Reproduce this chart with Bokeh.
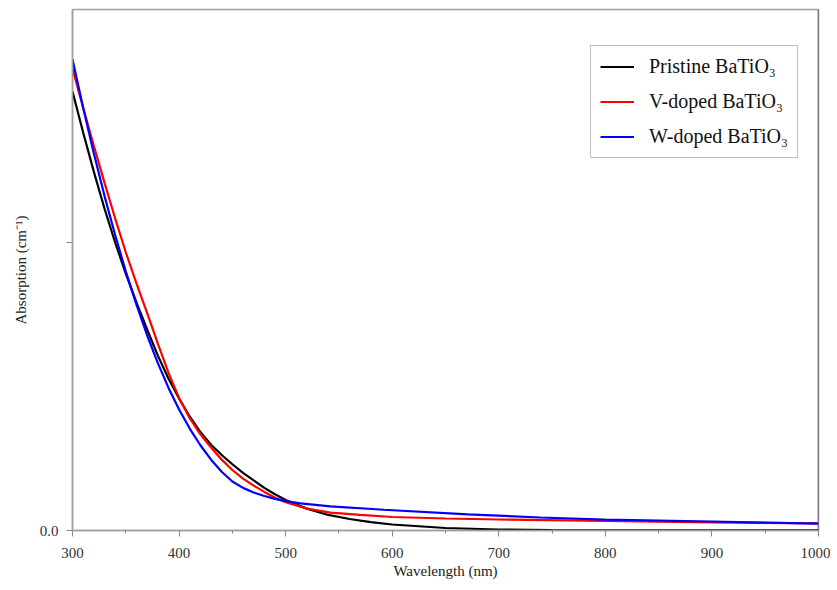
from bokeh.plotting import figure
from bokeh.models import FixedTicker, Span
from bokeh.embed import file_html
from bokeh.resources import INLINE

# Wavelength (nm) and absorption values
black_x = [300, 310, 320, 330, 340, 350, 360, 370, 380, 390, 400, 410, 420, 430, 440, 450, 460, 470, 480, 490, 500, 510, 520, 540, 560, 580, 600, 650, 700, 750, 800, 1000]
black_y = [0.762, 0.691, 0.623, 0.559, 0.500, 0.446, 0.396, 0.349, 0.304, 0.264, 0.229, 0.198, 0.171, 0.149, 0.131, 0.115, 0.100, 0.087, 0.074, 0.063, 0.053, 0.045, 0.038, 0.027, 0.020, 0.0145, 0.0104, 0.0043, 0.0017, 0.0007, 0.0004, 0.0002]

red_x = [300, 310, 320, 330, 340, 350, 360, 370, 380, 390, 400, 410, 420, 430, 440, 450, 460, 470, 480, 490, 500, 520, 542, 570, 600, 650, 700, 800, 900, 1000]
red_y = [0.802, 0.734, 0.668, 0.604, 0.542, 0.483, 0.429, 0.378, 0.325, 0.274, 0.230, 0.195, 0.167, 0.144, 0.123, 0.105, 0.090, 0.078, 0.067, 0.057, 0.049, 0.038, 0.031, 0.027, 0.0234, 0.0208, 0.0191, 0.0168, 0.0142, 0.0122]

blue_x = [300, 310, 320, 330, 340, 350, 360, 370, 380, 390, 400, 410, 420, 430, 440, 450, 460, 470, 480, 490, 500, 514, 542, 592, 671, 739, 800, 900, 1000]
blue_y = [0.818, 0.734, 0.655, 0.581, 0.513, 0.450, 0.392, 0.339, 0.291, 0.248, 0.210, 0.177, 0.148, 0.123, 0.102, 0.085, 0.074, 0.066, 0.060, 0.055, 0.051, 0.047, 0.042, 0.036, 0.028, 0.0226, 0.019, 0.0156, 0.012]

labels = ["Pristine BaTiO\u2083", "V-doped BaTiO\u2083", "W-doped BaTiO\u2083"]
colors = ["#000000", "#ff0000", "#0000ff"]

x_ticks = [300, 400, 500, 600, 700, 800, 900, 1000]
x_minor = [350, 450, 550, 650, 750, 850, 950]
y_ticks = [0.0, 0.5]

FONT = "Liberation Serif"

p = figure(width=830, height=582, x_range=(300, 1000), y_range=(0, 0.9045),
           output_backend="svg", toolbar_location=None,
           min_border_left=72, min_border_right=12, min_border_top=9, min_border_bottom=52)

for xs, ys, c, lab in zip([black_x, red_x, blue_x], [black_y, red_y, blue_y], colors, labels):
    p.line(xs, ys, line_color=c, line_width=2.2, legend_label=lab)

p.xgrid.visible = False
p.ygrid.visible = False
p.outline_line_color = "#a0a0a0"
p.outline_line_width = 1.5

p.add_layout(Span(location=1000, dimension="height", line_color="#555555", line_width=1.5))

xa = p.xaxis[0]
xa.ticker = FixedTicker(ticks=x_ticks, minor_ticks=x_minor)
xa.axis_label = "Wavelength (nm)"
ya = p.yaxis[0]
ya.ticker = FixedTicker(ticks=y_ticks, minor_ticks=[])
ya.major_label_overrides = {0: "0.0", 0.5: ""}
ya.axis_label = "Absorption (cm\u207b\u00b9)"

for ax in (xa, ya):
    ax.axis_line_color = "#a0a0a0"
    ax.axis_line_width = 1.5
    ax.major_tick_line_color = "#888888"
    ax.minor_tick_line_color = "#888888"
    ax.major_tick_out = 6
    ax.major_tick_in = 0
    ax.minor_tick_out = 3
    ax.minor_tick_in = 0
    ax.major_label_text_font = FONT
    ax.major_label_text_font_size = "15px"
    ax.major_label_text_color = "#333333"
    ax.axis_label_text_font = FONT
    ax.axis_label_text_font_size = "15px"
    ax.axis_label_text_font_style = "normal"
    ax.axis_label_text_color = "#222222"

xa.major_label_standoff = 11
xa.axis_label_standoff = 2
ya.major_label_standoff = 8
ya.axis_label_standoff = 8

lg = p.legend[0]
lg.location = (518, 372)
lg.border_line_color = "#808080"
lg.border_line_width = 1
lg.label_text_font = FONT
lg.label_text_font_size = "20px"
lg.label_text_color = "#111111"
lg.glyph_width = 34
lg.glyph_height = 23
lg.label_height = 23
lg.label_standoff = 15
lg.padding = 9
lg.spacing = 12
lg.margin = 0
lg.background_fill_alpha = 1.0

open("out.html", "w").write(file_html(p, INLINE))
